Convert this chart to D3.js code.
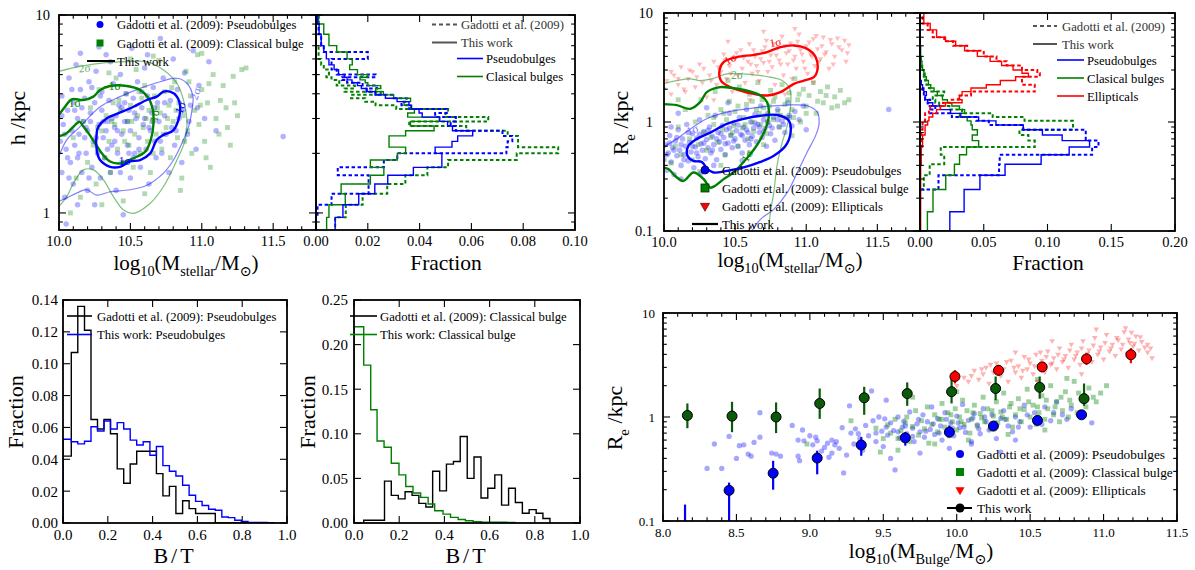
<!DOCTYPE html>
<html><head><meta charset="utf-8">
<script src="https://cdn.jsdelivr.net/npm/d3@7"></script>
<style>
body{margin:0;background:#fff}
svg text{font-family:"Liberation Serif","DejaVu Serif",serif !important;}
</style>
</head><body><svg id="c" width="1195" height="570" font-family="Liberation Serif"></svg>
<script>
// ===================== DATA =====================
// Panel A: h vs log M*  (Gadotti et al. 2009)
const aPseudo = [[10.01,2.3],[10.02,1.6],[10.02,3.9],[10.03,2.8],[10.04,1.2],[10.05,0.88],[10.05,2.1],[10.06,3.3],[10.07,4.8],[10.08,1.8],[10.09,2.6],[10.1,1.4],[10.1,3.6],[10.11,2.2],[10.12,5.6],[10.13,1.9],[10.13,3.0],[10.14,2.5],[10.15,4.2],[10.16,1.6],[10.17,2.9],[10.18,3.8],[10.19,2.0],[10.2,1.3],[10.2,2.6],[10.21,4.6],[10.22,3.2],[10.23,1.7],[10.24,2.3],[10.25,3.6],[10.26,5.2],[10.27,2.0],[10.28,2.8],[10.29,1.5],[10.3,3.3],[10.3,4.1],[10.31,2.4],[10.32,1.9],[10.33,6.3],[10.34,2.9],[10.35,3.7],[10.36,1.6],[10.37,2.2],[10.38,4.5],[10.39,2.7],[10.4,3.1],[10.4,1.3],[10.41,2.0],[10.42,3.5],[10.43,5.0],[10.44,2.5],[10.45,1.8],[10.46,2.9],[10.47,4.0],[10.48,2.2],[10.49,3.3],[10.5,1.5],[10.5,2.6],[10.51,6.8],[10.52,3.8],[10.53,2.0],[10.54,3.0],[10.55,4.6],[10.56,2.4],[10.57,1.7],[10.58,3.4],[10.59,2.8],[10.6,5.4],[10.61,2.1],[10.62,3.9],[10.63,1.4],[10.64,2.6],[10.65,3.2],[10.66,4.3],[10.67,2.3],[10.68,1.9],[10.69,3.6],[10.7,2.9],[10.71,7.6],[10.72,2.0],[10.73,4.8],[10.74,3.1],[10.75,2.5],[10.77,1.6],[10.78,3.7],[10.79,2.7],[10.8,6.0],[10.81,2.2],[10.83,4.2],[10.84,3.0],[10.86,1.8],[10.88,5.1],[10.9,2.5],[10.92,3.5],[10.94,6.6],[10.96,2.1],[10.98,4.4],[11.02,3.0],[11.05,5.8],[11.1,2.6],[10.15,6.4],[10.28,6.9],[10.36,5.8],[10.62,6.3],[10.45,0.98],[10.25,1.1],[10.13,1.1],[11.57,2.43],[10.07,1.5],[10.33,2.6],[10.52,1.9],[10.44,3.4],[10.58,4.1],[10.66,2.9],[10.22,2.9],[10.18,2.4],[10.39,2.3],[10.48,2.9],[10.02,3.1],[10.04,2.5],[10.06,1.9],[10.09,4.2],[10.11,3.3],[10.14,2.0],[10.16,3.4],[10.19,2.7],[10.21,1.5],[10.23,4.3],[10.26,2.4],[10.29,3.9],[10.31,2.9],[10.34,2.1],[10.37,3.0],[10.41,2.6],[10.43,1.6],[10.46,3.6],[10.49,2.0],[10.53,3.2],[10.56,2.1],[10.6,3.0],[10.63,2.7],[10.67,3.4],[10.71,2.3],[10.74,3.6],[10.82,2.6],[10.87,3.3],[10.91,2.9],[10.97,3.4]];
const aClassical = [[10.08,1.0],[10.1,2.4],[10.12,1.5],[10.15,1.2],[10.17,2.9],[10.2,1.8],[10.22,3.4],[10.24,2.2],[10.26,1.4],[10.28,4.2],[10.3,2.6],[10.32,1.9],[10.33,3.1],[10.35,2.3],[10.36,1.6],[10.38,3.6],[10.39,2.8],[10.4,4.8],[10.41,2.1],[10.43,3.3],[10.44,1.8],[10.45,2.6],[10.47,4.0],[10.48,2.9],[10.49,2.2],[10.5,3.5],[10.52,1.7],[10.53,2.5],[10.54,5.3],[10.55,3.1],[10.57,2.0],[10.58,3.8],[10.59,2.7],[10.6,4.4],[10.62,2.3],[10.63,3.3],[10.64,1.6],[10.65,2.9],[10.67,3.9],[10.68,2.5],[10.7,5.9],[10.71,3.2],[10.72,2.1],[10.74,4.1],[10.75,2.7],[10.77,3.5],[10.78,1.9],[10.8,2.9],[10.81,4.6],[10.83,2.4],[10.84,3.6],[10.86,1.5],[10.87,3.1],[10.89,5.2],[10.9,2.6],[10.92,3.9],[10.93,2.0],[10.95,3.3],[10.97,6.3],[10.98,2.8],[11.0,4.2],[11.02,2.3],[11.04,3.6],[11.06,1.7],[11.08,5.0],[11.1,3.0],[11.12,2.5],[11.15,4.4],[11.17,3.4],[11.2,2.2],[11.22,4.9],[11.25,3.1],[11.28,5.3],[11.31,5.4],[10.85,1.3],[10.6,1.25],[10.45,1.15],[10.3,1.1],[11.03,1.9],[10.66,6.2],[10.5,6.0],[10.35,5.1],[11.0,6.4],[10.27,2.7],[10.37,2.9],[10.42,3.7],[10.46,2.3],[10.51,2.9],[10.56,4.1],[10.61,3.0],[10.66,2.0],[10.69,3.4],[10.73,2.5],[10.76,3.0],[10.79,4.3],[10.82,3.3],[10.88,2.3],[10.91,4.6],[10.99,3.5],[11.05,4.5],[11.13,3.7],[11.18,2.7],[11.23,3.6]];
// Panel A contours (this work) [log M*, h]
const aClassical1s = [[9.99,2.43],[10.054,2.53],[10.112,2.78],[10.143,2.89],[10.171,2.73],[10.206,2.53],[10.253,2.25],[10.30,2.0],[10.358,1.82],[10.428,1.78],[10.522,1.89],[10.604,2.04],[10.643,2.34],[10.662,2.84],[10.657,3.31],[10.627,3.80],[10.568,4.18],[10.475,4.38],[10.358,4.38],[10.288,4.18],[10.241,3.87],[10.171,3.72],[10.089,3.75],[10.042,3.44],[9.99,3.06]];
const aPseudo1s = [[10.264,2.53],[10.264,2.08],[10.288,1.85],[10.358,1.71],[10.428,1.71],[10.498,1.82],[10.568,1.85],[10.639,2.0],[10.685,2.34],[10.732,2.48],[10.802,2.62],[10.849,3.31],[10.826,3.87],[10.779,4.10],[10.732,4.10],[10.685,3.87],[10.615,3.72],[10.522,3.44],[10.417,3.19],[10.335,3.01],[10.276,2.73]];
const aClassical2s = [[9.99,5.17],[10.14,5.48],[10.288,5.70],[10.475,5.81],[10.615,5.81],[10.732,5.27],[10.826,4.52],[10.872,3.72],[10.896,2.95],[10.884,2.34],[10.826,1.85],[10.732,1.36],[10.639,1.12],[10.522,0.996],[10.452,1.035],[10.381,1.21],[10.311,1.47],[10.241,1.65],[10.171,1.65],[10.101,1.41],[10.054,1.21],[9.99,1.06]];
const aPseudo2s = [[9.99,1.85],[10.054,2.34],[10.148,2.73],[10.288,3.44],[10.428,3.87],[10.568,4.26],[10.709,4.60],[10.826,4.79],[10.896,4.52],[10.938,3.87],[10.931,3.31],[10.908,2.73],[10.861,2.25],[10.802,1.85],[10.732,1.59],[10.615,1.38],[10.498,1.31],[10.358,1.28],[10.264,1.23],[10.194,1.31],[10.124,1.26],[10.054,1.19],[9.99,1.14]];

// Panel B: fraction histograms of h (bins in kpc)
const hEdges = [0.8,0.95,1.1,1.25,1.4,1.55,1.7,1.85,2.0,2.15,2.3,2.45,2.6,2.75,2.9,3.05,3.2,3.35,3.5,3.65,3.8,3.95,4.1,4.25,4.4,4.55,4.7,4.85,5.0,5.3,5.6,6.0,6.5,7.0,8.0,9.0,10.0];
const hPseudoThis = [0.0074,0.0104,0.0165,0.0227,0.0277,0.0376,0.0486,0.0486,0.046,0.0525,0.0547,0.0605,0.0527,0.0508,0.0478,0.041,0.0398,0.0369,0.0359,0.0313,0.0268,0.0229,0.0197,0.0175,0.016,0.0139,0.012,0.011,0.0087,0.007,0.005,0.004,0.003,0.002,0.0012,0.0006];
const hPseudoGad = [0.0,0.0006,0.006,0.0203,0.0203,0.0084,0.0262,0.0314,0.0735,0.074,0.0758,0.072,0.054,0.052,0.054,0.046,0.0505,0.036,0.033,0.035,0.03,0.023,0.0195,0.0235,0.018,0.012,0.01,0.023,0.008,0.006,0.006,0.02,0.003,0.002,0.001,0.001];
const hClassThis = [0.0041,0.005,0.0113,0.0097,0.021,0.0262,0.021,0.0314,0.0346,0.0282,0.0282,0.0346,0.0456,0.0365,0.0476,0.0354,0.038,0.0365,0.034,0.0365,0.03,0.026,0.023,0.025,0.02,0.019,0.017,0.02,0.016,0.013,0.014,0.012,0.008,0.005,0.003,0.001];
const hClassGad = [0.0074,0.0115,0.018,0.0275,0.0345,0.043,0.051,0.0775,0.0935,0.078,0.078,0.074,0.058,0.036,0.0665,0.05,0.051,0.031,0.023,0.019,0.0135,0.025,0.011,0.015,0.008,0.009,0.006,0.004,0.005,0.003,0.002,0.001,0.001,0.0,0.0,0.0];

// Panel C: Re vs log M*
const cPseudo = [[10.0,0.45],[10.01,0.62],[10.02,0.36],[10.03,0.52],[10.04,0.75],[10.05,0.43],[10.06,0.58],[10.07,0.33],[10.08,0.67],[10.09,0.49],[10.1,0.85],[10.11,0.55],[10.12,0.4],[10.13,0.7],[10.14,0.5],[10.15,0.6],[10.16,0.95],[10.17,0.44],[10.18,0.65],[10.19,0.53],[10.2,0.78],[10.21,0.38],[10.22,0.59],[10.23,0.71],[10.24,0.48],[10.25,1.05],[10.26,0.63],[10.27,0.55],[10.28,0.82],[10.29,0.46],[10.3,0.69],[10.31,0.58],[10.32,0.9],[10.33,0.52],[10.34,0.74],[10.35,0.62],[10.36,1.15],[10.37,0.45],[10.38,0.8],[10.39,0.66],[10.4,0.56],[10.41,0.93],[10.42,0.72],[10.43,0.5],[10.44,0.85],[10.45,0.64],[10.46,1.2],[10.47,0.76],[10.48,0.58],[10.49,0.98],[10.5,0.7],[10.51,0.83],[10.52,0.6],[10.53,1.1],[10.54,0.77],[10.55,0.52],[10.56,0.9],[10.57,0.68],[10.58,1.3],[10.59,0.8],[10.6,0.62],[10.61,1.0],[10.62,0.74],[10.63,0.88],[10.64,1.18],[10.65,0.66],[10.66,0.95],[10.67,0.8],[10.68,1.4],[10.69,0.72],[10.7,1.05],[10.71,0.87],[10.72,0.6],[10.73,1.2],[10.74,0.93],[10.75,0.78],[10.77,1.1],[10.78,0.68],[10.8,1.3],[10.81,0.9],[10.83,1.02],[10.85,0.8],[10.87,1.5],[10.88,1.15],[10.9,0.92],[10.92,1.25],[10.95,1.05],[10.98,1.4],[11.0,0.85],[11.58,1.3],[10.12,0.3],[10.26,0.34],[10.35,0.4],[10.55,0.44],[10.1,1.2],[10.3,1.35],[10.45,1.5],[10.05,0.9],[10.02,0.5],[10.04,0.64],[10.07,0.55],[10.09,0.72],[10.12,0.62],[10.14,0.45],[10.17,0.8],[10.2,0.6],[10.23,0.52],[10.25,0.77],[10.28,0.64],[10.31,0.84],[10.34,0.55],[10.37,0.7],[10.4,0.78],[10.43,0.63],[10.46,0.88],[10.49,0.67],[10.52,0.94],[10.55,0.75],[10.58,0.85],[10.61,0.7],[10.64,0.98],[10.67,0.9],[10.7,0.82],[10.73,1.0],[10.76,0.88],[10.8,1.05],[10.84,0.95],[10.88,1.1]];
const cClassical = [[10.05,0.42],[10.08,0.6],[10.1,0.9],[10.12,0.5],[10.15,1.3],[10.18,0.7],[10.2,0.45],[10.22,1.0],[10.24,0.62],[10.26,1.6],[10.28,0.8],[10.3,0.55],[10.31,1.15],[10.33,0.72],[10.35,0.95],[10.36,1.9],[10.38,0.65],[10.4,1.3],[10.41,0.85],[10.43,0.5],[10.44,1.05],[10.46,1.55],[10.47,0.75],[10.49,0.92],[10.5,1.25],[10.52,0.6],[10.53,2.1],[10.55,0.88],[10.56,1.1],[10.58,1.45],[10.59,0.7],[10.6,1.8],[10.62,1.0],[10.63,0.82],[10.65,1.3],[10.66,2.3],[10.68,0.95],[10.69,1.6],[10.71,1.15],[10.72,0.78],[10.74,1.4],[10.75,1.95],[10.77,1.05],[10.78,1.7],[10.8,1.25],[10.81,0.9],[10.83,2.2],[10.85,1.45],[10.86,1.1],[10.88,1.85],[10.9,1.3],[10.92,2.5],[10.94,1.6],[10.96,1.0],[10.98,2.0],[11.0,1.4],[11.02,1.75],[11.05,2.3],[11.07,1.2],[11.1,1.9],[11.12,1.5],[11.15,2.1],[11.18,1.35],[11.2,1.7],[11.24,1.95],[11.27,1.5],[11.3,1.6],[10.25,0.35],[10.4,0.4],[10.6,0.52],[10.7,0.62],[10.9,0.75],[10.1,1.6],[10.45,2.4],[10.35,1.1],[10.42,1.2],[10.48,0.8],[10.52,1.4],[10.57,0.95],[10.62,1.55],[10.67,1.2],[10.7,1.35],[10.73,1.0],[10.77,1.55],[10.82,1.15],[10.87,1.6],[10.91,1.1],[10.95,1.8],[11.0,1.2],[11.08,1.55],[11.14,1.75],[11.22,1.4]];
const cEllip = [[10.0,2.0],[10.02,2.4],[10.05,1.8],[10.07,2.7],[10.1,2.2],[10.12,3.2],[10.15,1.9],[10.17,2.5],[10.2,2.9],[10.22,2.1],[10.25,3.4],[10.27,2.3],[10.3,1.7],[10.32,2.7],[10.35,3.6],[10.37,2.2],[10.4,2.9],[10.42,4.2],[10.44,2.5],[10.46,3.3],[10.48,1.9],[10.5,3.8],[10.52,2.7],[10.54,4.6],[10.55,3.1],[10.57,2.3],[10.59,3.6],[10.6,5.2],[10.62,2.8],[10.64,4.0],[10.65,3.3],[10.67,2.4],[10.69,4.5],[10.7,3.5],[10.72,5.6],[10.73,2.9],[10.75,4.1],[10.76,3.2],[10.78,2.2],[10.8,4.8],[10.81,3.7],[10.83,6.1],[10.84,2.7],[10.86,4.3],[10.87,3.4],[10.89,5.3],[10.9,2.5],[10.92,4.0],[10.93,3.1],[10.95,6.4],[10.96,4.6],[10.98,3.6],[11.0,5.0],[11.01,2.8],[11.03,4.2],[11.05,5.8],[11.06,3.3],[11.08,4.7],[11.1,3.8],[11.12,6.0],[11.14,4.4],[11.16,3.1],[11.18,5.2],[11.2,4.0],[11.22,5.9],[11.25,4.6],[11.28,3.6],[11.3,5.1],[10.92,7.2],[10.7,6.8],[10.6,1.6],[10.35,1.6],[10.45,5.5],[11.05,2.3],[10.85,1.8],[10.05,2.9],[10.1,2.5],[10.14,2.0],[10.18,3.0],[10.23,2.6],[10.28,3.1],[10.33,2.4],[10.38,3.2],[10.43,3.7],[10.47,2.8],[10.51,4.3],[10.56,3.9],[10.61,3.4],[10.63,4.6],[10.66,2.9],[10.68,3.8],[10.71,4.9],[10.74,3.6],[10.77,5.2],[10.79,4.1],[10.82,3.4],[10.85,5.0],[10.88,4.5],[10.91,3.7],[10.94,5.5],[10.97,4.2],[10.99,3.1],[11.02,5.4],[11.04,4.0],[11.07,6.2],[11.09,3.6],[11.11,5.0],[11.13,4.2],[11.17,5.7],[11.19,3.4],[11.23,4.9],[11.27,5.6],[11.29,4.3]];
const cEllip1s = [[10.39,2.96],[10.419,3.54],[10.513,3.94],[10.631,4.13],[10.725,4.38],[10.819,4.87],[10.913,5.04],[11.007,4.69],[11.066,3.94],[11.078,2.96],[11.054,2.58],[10.984,2.40],[10.913,2.24],[10.819,1.88],[10.725,1.75],[10.631,1.81],[10.537,1.94],[10.454,2.13],[10.40,2.40]];
const cClassical1s = [[9.99,1.46],[10.089,1.43],[10.184,1.32],[10.254,1.52],[10.301,1.88],[10.395,2.09],[10.489,2.04],[10.584,1.94],[10.678,1.75],[10.725,1.52],[10.737,1.14],[10.713,0.86],[10.666,0.65],[10.619,0.53],[10.56,0.43],[10.489,0.344],[10.419,0.299],[10.36,0.26],[10.325,0.25],[10.278,0.30],[10.207,0.344],[10.136,0.288],[10.078,0.32],[10.031,0.37],[9.99,0.383]];
const cPseudo1s = [[10.165,0.49],[10.172,0.605],[10.231,0.70],[10.325,0.80],[10.442,0.96],[10.56,1.07],[10.678,1.14],[10.795,1.16],[10.878,1.03],[10.89,0.80],[10.855,0.605],[10.772,0.49],[10.678,0.43],[10.56,0.383],[10.442,0.356],[10.348,0.344],[10.306,0.37],[10.266,0.43],[10.207,0.44]];
const cClassical2s = [[9.99,2.24],[10.089,2.40],[10.184,2.49],[10.254,2.40],[10.348,2.52],[10.442,2.76],[10.537,2.76],[10.631,2.71],[10.748,2.58],[10.831,2.40],[10.885,2.01],[10.89,1.41],[10.866,0.92],[10.831,0.65],[10.795,0.40],[10.772,0.225],[10.748,0.148],[10.737,0.095]];
const cPseudo2s = [[9.99,0.585],[10.089,0.70],[10.184,0.86],[10.301,1.07],[10.442,1.23],[10.584,1.32],[10.725,1.39],[10.866,1.43],[11.007,1.41],[11.078,1.23],[11.09,0.96],[11.066,0.75],[11.007,0.53],[10.937,0.344],[10.866,0.225],[10.772,0.158],[10.678,0.128],[10.607,0.095]];

// Panel D: fraction histograms of Re
const reEdges = [0.1,0.15,0.24,0.325,0.41,0.5,0.59,0.675,0.76,0.85,0.94,1.025,1.11,1.2,1.3,1.4,1.5,1.6,1.75,1.9,2.05,2.2,2.4,2.6,2.8,3.0,3.3,3.6,4.0,4.5,5.0,5.5,6.0,7.0,8.0,10.0];
const rePseudoThis = [0.0234,0.0346,0.047,0.0667,0.095,0.117,0.133,0.1115,0.096,0.081,0.0596,0.046,0.032,0.024,0.016,0.01,0.006,0.004,0.005,0.003,0.002,0.001,0,0,0,0,0,0,0,0,0,0,0,0,0];
const rePseudoGad = [0,0,0.0145,0.062,0.0625,0.135,0.14,0.13,0.13,0.081,0.054,0.044,0.025,0.008,0.012,0.006,0.008,0.004,0.003,0.002,0,0,0,0,0,0,0,0,0,0,0,0,0,0,0];
const reClassThis = [0.0058,0.0102,0.0202,0.027,0.031,0.0365,0.046,0.041,0.045,0.041,0.04,0.037,0.031,0.035,0.031,0.025,0.0215,0.0176,0.0136,0.011,0.0084,0.0066,0.005,0.004,0.003,0.002,0.0015,0.001,0.0005,0.0005,0,0,0,0,0];
const reClassGad = [0,0,0.003,0.0076,0.019,0.0163,0.09,0.085,0.078,0.12,0.12,0.082,0.057,0.033,0.023,0.015,0.012,0.01,0.019,0.008,0.006,0.005,0.004,0.003,0.003,0.001,0.001,0,0,0,0,0,0,0,0];
const reEllThis = [0.0005,0.0005,0.0005,0.0005,0.001,0.001,0.002,0.002,0.004,0.004,0.006,0.007,0.01,0.013,0.016,0.02,0.033,0.031,0.033,0.04,0.052,0.063,0.075,0.085,0.08,0.073,0.064,0.055,0.045,0.035,0.028,0.02,0.013,0.008,0.003];
const reEllGad = [0,0,0,0,0,0,0.001,0.001,0.001,0.002,0.002,0.004,0.004,0.007,0.008,0.018,0.024,0.03,0.04,0.09,0.09,0.08,0.08,0.094,0.092,0.08,0.068,0.06,0.05,0.037,0.026,0.019,0.01,0.006,0.002];

// Panel E: B/T pseudobulges
const btEdgesE = [0,0.037,0.066,0.096,0.125,0.154,0.183,0.212,0.242,0.271,0.3,0.329,0.358,0.388,0.417,0.446,0.475,0.504,0.534,0.563,0.592,0.621,0.65,0.68,0.709,0.738,0.767,0.796,0.826,0.855,0.884,0.913,0.942];
const btPseudoGad = [0.042,0.107,0.136,0.121,0.065,0.059,0.065,0.056,0.034,0.025,0.037,0.045,0.045,0.045,0.031,0.017,0.023,0.006,0.014,0.009,0.006,0.006,0.006,0,0,0,0,0,0,0,0,0];
const btPseudoThis = [0.0526,0.051,0.0497,0.0513,0.0604,0.0578,0.064,0.059,0.063,0.059,0.052,0.049,0.051,0.0425,0.048,0.036,0.0325,0.0295,0.0237,0.0174,0.0136,0.011,0.0086,0.008,0.0038,0.0034,0.0017,0.001,0.0004,0.0003,0.0003,0.0002];

// Panel F: B/T classical bulges
const btEdgesClassGad = [0.043,0.074,0.104,0.135,0.165,0.196,0.226,0.257,0.287,0.318,0.348,0.379,0.409,0.44,0.47,0.501,0.531,0.562,0.592,0.623,0.653,0.684,0.714,0.745,0.775,0.806,0.836,0.867];
const btClassGad = [0.003,0.003,0.003,0.047,0.031,0.027,0.035,0.031,0.022,0.018,0.058,0.036,0.066,0.069,0.097,0.05,0.074,0.028,0.039,0.054,0.02,0.039,0.023,0.011,0.015,0.011,0.005];
const btEdgesClassThis = [0,0.043,0.074,0.102,0.133,0.165,0.199,0.229,0.261,0.295,0.328,0.357,0.394,0.427,0.461,0.493,0.527,0.564,0.601,0.638,0.675,0.712];
const btClassThis = [0.22,0.177,0.127,0.092,0.085,0.067,0.054,0.041,0.0336,0.0287,0.0213,0.0138,0.01,0.0063,0.004,0.0026,0.0015,0.001,0.0008,0.0008,0.0005];

// Panel G: Re vs log M_bulge
const gPseudo = [[8.3,0.32],[8.35,0.55],[8.45,0.65],[8.5,0.4],[8.52,0.53],[8.55,0.54],[8.58,0.44],[8.6,0.42],[8.62,0.57],[8.66,0.64],[8.66,1.1],[8.74,0.45],[8.77,0.44],[8.8,0.42],[8.88,0.83],[8.92,0.6],[8.92,0.42],[8.93,0.38],[8.96,0.59],[9.0,0.66],[9.02,0.54],[9.04,0.64],[9.05,0.59],[9.08,0.47],[9.1,0.51],[9.12,0.56],[9.13,0.41],[9.15,0.6],[9.17,0.54],[9.18,0.58],[9.2,0.5],[9.22,0.79],[9.23,0.29],[9.25,0.43],[9.27,1.28],[9.28,0.7],[9.3,0.55],[9.31,0.77],[9.33,0.69],[9.34,0.62],[9.36,0.48],[9.38,0.83],[9.4,0.66],[9.42,1.78],[9.43,0.92],[9.45,0.58],[9.47,1.0],[9.49,0.73],[9.5,0.52],[9.51,0.96],[9.52,1.45],[9.53,0.67],[9.55,0.88],[9.57,0.74],[9.58,0.31],[9.6,1.0],[9.61,0.63],[9.63,0.8],[9.64,0.91],[9.66,0.69],[9.68,1.12],[9.7,0.78],[9.71,0.58],[9.73,0.86],[9.75,0.72],[9.77,1.05],[9.78,0.64],[9.8,0.9],[9.82,0.76],[9.83,1.25],[9.85,0.68],[9.87,0.97],[9.89,0.82],[9.9,0.6],[9.92,1.1],[9.94,0.74],[9.96,0.88],[9.98,0.66],[10.0,1.02],[10.02,0.79],[10.04,1.32],[10.06,0.71],[10.08,0.93],[10.1,0.58],[10.12,1.08],[10.14,0.84],[10.16,0.69],[10.18,1.2],[10.2,0.9],[10.22,0.75],[10.24,1.05],[10.27,0.62],[10.3,0.97],[10.32,1.15],[10.35,0.82],[10.38,0.72],[10.4,1.0],[10.43,0.9],[10.46,1.3],[10.5,0.8],[10.53,1.1],[10.56,0.98],[10.6,1.25],[10.64,0.92],[10.68,1.4],[10.72,1.05],[10.78,1.2],[10.85,1.1],[10.92,0.88],[9.55,0.4],[9.75,0.45],[9.95,0.5],[10.1,0.55],[10.4,0.6],[10.3,0.46],[8.4,0.32],[8.95,0.75],[9.15,0.45],[9.45,0.7],[9.52,0.8],[9.6,0.72],[9.65,0.82],[9.7,0.65],[9.74,0.95],[9.79,0.73],[9.84,0.86],[9.88,0.7],[9.93,0.95],[9.97,0.78],[10.01,0.88],[10.05,0.8],[10.11,0.98],[10.15,0.77],[10.19,1.0],[10.26,0.88],[10.33,0.95],[10.42,0.8],[10.48,1.05],[10.58,0.85],[10.66,1.1],[10.75,0.95]];
const gClassical = [[8.98,0.55],[9.28,0.92],[9.45,0.78],[9.48,0.46],[9.5,0.62],[9.53,0.84],[9.55,0.7],[9.58,0.95],[9.6,0.62],[9.62,0.74],[9.65,0.88],[9.66,1.0],[9.68,0.58],[9.7,0.81],[9.72,1.15],[9.74,0.67],[9.76,0.92],[9.78,0.77],[9.8,1.25],[9.81,0.56],[9.83,0.85],[9.85,1.05],[9.87,0.72],[9.88,0.95],[9.9,1.35],[9.92,0.8],[9.94,1.1],[9.95,0.66],[9.97,0.9],[9.99,1.2],[10.0,0.75],[10.02,1.0],[10.04,1.45],[10.05,0.85],[10.07,1.15],[10.09,0.7],[10.1,0.95],[10.12,1.3],[10.14,0.82],[10.16,1.08],[10.18,1.55],[10.19,0.9],[10.21,1.2],[10.23,0.77],[10.25,1.02],[10.27,1.4],[10.28,0.88],[10.3,1.12],[10.32,1.7],[10.34,0.95],[10.36,1.25],[10.38,0.8],[10.4,1.05],[10.42,1.5],[10.44,0.9],[10.46,1.18],[10.48,1.85],[10.5,1.0],[10.52,1.3],[10.54,0.85],[10.56,1.1],[10.58,1.6],[10.6,0.95],[10.62,1.2],[10.64,2.0],[10.66,1.05],[10.68,1.4],[10.7,0.9],[10.72,1.15],[10.74,1.75],[10.76,1.0],[10.78,1.3],[10.8,2.2],[10.82,1.1],[10.85,1.5],[10.88,1.25],[10.9,1.9],[10.95,1.4],[10.98,1.7],[11.02,2.0],[9.6,0.48],[9.85,0.55],[10.08,0.6],[10.35,0.68],[10.6,0.75],[9.7,1.55],[10.0,1.75],[10.55,2.3],[10.75,2.35],[9.9,0.95],[9.96,1.05],[10.03,0.9],[10.11,1.1],[10.17,0.98],[10.24,1.15],[10.31,1.0],[10.37,1.35],[10.43,1.2],[10.49,1.4],[10.55,1.25],[10.61,1.45],[10.67,1.25],[10.71,1.55],[10.77,1.45],[10.83,1.7],[10.87,1.6],[10.93,1.55]];
const gEllip = [[10.0,2.0],[10.05,2.4],[10.08,2.2],[10.12,2.8],[10.15,2.3],[10.18,2.6],[10.2,3.0],[10.22,2.1],[10.25,2.7],[10.27,3.3],[10.3,2.5],[10.32,2.9],[10.35,2.2],[10.37,3.5],[10.4,2.7],[10.42,3.1],[10.44,2.4],[10.46,3.8],[10.48,2.9],[10.5,3.3],[10.52,2.6],[10.54,4.0],[10.56,3.0],[10.58,3.5],[10.6,2.7],[10.62,4.3],[10.64,3.2],[10.66,3.7],[10.68,2.9],[10.7,4.6],[10.72,3.4],[10.74,3.9],[10.76,3.0],[10.78,5.0],[10.8,3.6],[10.82,4.2],[10.84,3.2],[10.86,5.4],[10.88,3.8],[10.9,4.4],[10.92,3.4],[10.94,5.8],[10.96,4.0],[10.98,4.7],[11.0,3.6],[11.02,6.2],[11.04,4.3],[11.06,5.0],[11.08,3.9],[11.1,5.5],[11.12,4.5],[11.14,6.6],[11.16,4.1],[11.18,5.2],[11.2,4.8],[11.22,6.0],[11.24,4.4],[11.26,5.3],[11.28,4.7],[11.3,4.2],[11.33,3.7],[11.15,7.2],[10.95,7.0],[10.65,5.4],[10.4,4.2],[10.25,1.9],[10.55,2.2],[10.85,2.6],[10.1,2.5],[10.17,2.9],[10.23,3.2],[10.29,2.8],[10.34,3.4],[10.39,3.0],[10.45,2.8],[10.49,3.6],[10.53,3.1],[10.57,4.2],[10.61,3.8],[10.65,3.3],[10.69,4.0],[10.73,3.6],[10.77,4.4],[10.81,3.9],[10.85,4.6],[10.89,4.1],[10.93,4.9],[10.97,4.3],[11.01,5.2],[11.05,4.6],[11.09,5.8],[11.13,5.0],[11.17,5.6],[11.21,5.1],[11.25,5.9],[11.3,5.0],[11.32,4.6],[11.19,6.5]];
// This work binned medians with errors
const twPseudoM = [8.15,8.45,8.75,9.05,9.35,9.65,9.95,10.25,10.55,10.85];
const twPseudoRe = [0.085,0.197,0.288,0.403,0.538,0.63,0.715,0.818,0.927,1.05];
const twPseudoLo = [0.05,0.10,0.20,0.281,0.424,0.53,0.64,0.74,0.85,0.98];
const twPseudoHi = [0.144,0.234,0.379,0.474,0.64,0.715,0.83,0.90,1.0,1.13];
const twClassM = [8.166,8.47,8.77,9.067,9.37,9.663,9.965,10.265,10.565,10.867];
const twClassRe = [1.036,1.02,1.0,1.35,1.53,1.68,1.75,1.88,1.93,1.5];
const twClassLo = [0.78,0.715,0.70,0.96,1.05,1.28,1.35,1.45,1.5,1.28];
const twClassHi = [1.35,1.40,1.38,1.88,1.95,2.15,2.45,2.45,2.45,2.1];
const twEllM = [9.988,10.285,10.582,10.884,11.186];
const twEllRe = [2.45,2.81,3.03,3.62,3.97];
const twEllLo = [2.1,2.5,2.7,3.17,3.29];
const twEllHi = [2.83,3.17,3.35,4.1,4.6];

// tick values
const massTicks = [10.0,10.5,11.0,11.5];
const fracTicksB = [0,0.02,0.04,0.06,0.08,0.10];
const fracTicksD = [0,0.05,0.10,0.15,0.20];
const btTicks = [0,0.2,0.4,0.6,0.8,1.0];
const fracTicksE = [0,0.02,0.04,0.06,0.08,0.10,0.12,0.14];
const fracTicksF = [0,0.05,0.10,0.15,0.20,0.25];
const bulgeTicks = [8.0,8.5,9.0,9.5,10.0,10.5,11.0,11.5];

// ===================== DRAWING =====================
const FONT = '"Liberation Serif","DejaVu Serif",serif';
const svg = d3.select('#c');
svg.append('rect').attr('width',1195).attr('height',570).attr('fill','#fff');
const defs = svg.append('defs');
const BLUE='#0000ff', GREEN='#008000', RED='#ff0000', DGREEN='#0a5a0a';

const PA={l:59,r:316,t:15,b:230}, PB={l:316,r:575,t:15,b:230},
      PC={l:664,r:920,t:13,b:231}, PD={l:920,r:1175,t:13,b:231},
      PE={l:63,r:287,t:300,b:523}, PF={l:354,r:580,t:300,b:523},
      PG={l:663,r:1177,t:313,b:521};

const xA=d3.scaleLinear().domain([10,11.8]).range([PA.l,PA.r]);
const yA=d3.scaleLog().domain([0.82,10]).range([PA.b,PA.t]);
const xB=d3.scaleLinear().domain([0,0.1]).range([PB.l,PB.r]);
const xC=d3.scaleLinear().domain([10,11.8]).range([PC.l,PC.r]);
const yC=d3.scaleLog().domain([0.1,10]).range([PC.b,PC.t]);
const xD=d3.scaleLinear().domain([0,0.2]).range([PD.l,PD.r]);
const xE=d3.scaleLinear().domain([0,1]).range([PE.l,PE.r]);
const yE=d3.scaleLinear().domain([0,0.14]).range([PE.b,PE.t]);
const xF=d3.scaleLinear().domain([0,1]).range([PF.l,PF.r]);
const yF=d3.scaleLinear().domain([0,0.25]).range([PF.b,PF.t]);
const xG=d3.scaleLinear().domain([8,11.5]).range([PG.l,PG.r]);
const yG=d3.scaleLog().domain([0.1,10]).range([PG.b,PG.t]);

function clipG(id,P){
  defs.append('clipPath').attr('id',id).append('rect')
    .attr('x',P.l).attr('y',P.t).attr('width',P.r-P.l).attr('height',P.b-P.t);
  return svg.append('g').attr('clip-path',`url(#${id})`);
}
function scatter(g,data,xs,ys,kind,color,size,op){
  const t = kind==='circle'?d3.symbolCircle:kind==='square'?d3.symbolSquare:d3.symbolTriangle;
  const sym=d3.symbol().type(t).size(size);
  g.selectAll(null).data(data).enter().append('path').attr('d',sym)
    .attr('transform',d=>`translate(${xs(d[0])},${ys(d[1])})`+(kind==='tri'?' rotate(180)':''))
    .attr('fill',color).attr('fill-opacity',op);
}
function contour(g,pts,xs,ys,color,w,op,closed){
  const ln=d3.line().x(d=>xs(d[0])).y(d=>ys(d[1]))
    .curve(closed?d3.curveCatmullRomClosed.alpha(0.5):d3.curveCatmullRom.alpha(0.5));
  g.append('path').attr('d',ln(pts)).attr('fill','none').attr('stroke',color)
    .attr('stroke-width',w).attr('stroke-opacity',op);
}
function vstep(g,edges,vals,xs,ys,color,w,dash){
  const pts=[[edges[0],0]];
  vals.forEach((v,i)=>{pts.push([edges[i],v]);pts.push([edges[i+1],v]);});
  pts.push([edges[edges.length-1],0]);
  const p=g.append('path').attr('d',d3.line().x(d=>xs(d[0])).y(d=>ys(d[1]))(pts))
    .attr('fill','none').attr('stroke',color).attr('stroke-width',w);
  if(dash)p.attr('stroke-dasharray',dash);
}
function hstep(g,edges,vals,xs,ys,color,w,dash){
  const pts=[[0,edges[0]]];
  vals.forEach((v,i)=>{pts.push([v,edges[i]]);pts.push([v,edges[i+1]]);});
  pts.push([0,edges[edges.length-1]]);
  const p=g.append('path').attr('d',d3.line().x(d=>xs(d[0])).y(d=>ys(d[1]))(pts))
    .attr('fill','none').attr('stroke',color).attr('stroke-width',w);
  if(dash)p.attr('stroke-dasharray',dash);
}
function mkText(parent){ return parent.append('text').attr('font-family',FONT).style('font-family',FONT); }
function axes(P,xs,ys,o){
  const g=svg.append('g').attr('stroke','#000').attr('stroke-width',1.1);
  const tk=(a,b,c,d)=>g.append('line').attr('x1',a).attr('y1',b).attr('x2',c).attr('y2',d);
  const ML=7, mL=3.8;
  (o.xMaj||[]).forEach(v=>{const x=xs(v);tk(x,P.b,x,P.b-ML);tk(x,P.t,x,P.t+ML);});
  (o.xMin||[]).forEach(v=>{const x=xs(v);tk(x,P.b,x,P.b-mL);tk(x,P.t,x,P.t+mL);});
  (o.yMaj||[]).forEach(v=>{const y=ys(v);tk(P.l,y,P.l+ML,y);tk(P.r,y,P.r-ML,y);});
  (o.yMin||[]).forEach(v=>{const y=ys(v);tk(P.l,y,P.l+mL,y);tk(P.r,y,P.r-mL,y);});
  const t=svg.append('g').attr('font-size',o.fs).attr('fill','#000');
  if(o.xLab)(o.xMaj).forEach(v=>mkText(t).attr('x',xs(v)).attr('y',P.b+o.xOff)
      .attr('text-anchor','middle').text(o.xLab(v)));
  if(o.yLab)(o.yMaj).forEach(v=>mkText(t).attr('x',P.l-o.yOff).attr('y',ys(v)+o.fs*0.36)
      .attr('text-anchor','end').text(o.yLab(v)));
  svg.append('rect').attr('x',P.l).attr('y',P.t).attr('width',P.r-P.l).attr('height',P.b-P.t)
    .attr('fill','none').attr('stroke','#000').attr('stroke-width',1.8);
}
function rich(x,y,parts,size,anchor,rot){
  const t=mkText(svg).attr('font-size',size).attr('text-anchor',anchor||'middle').attr('fill','#000');
  if(rot)t.attr('transform',`translate(${x},${y}) rotate(${rot})`);else t.attr('x',x).attr('y',y);
  let shift=0;
  parts.forEach(p=>{
    const s=typeof p==='string'?p:p[0], sub=typeof p!=='string';
    const ts=t.append('tspan').text(s);
    const target=sub?size*0.3:0;
    if(target!==shift){ts.attr('dy',target-shift);shift=target;}
    if(sub)ts.attr('font-size',size*0.68);
  });
  return t;
}
function txt(x,y,s,size,color,anchor){
  return mkText(svg).attr('x',x).attr('y',y).attr('font-size',size)
    .attr('fill',color||'#000').attr('text-anchor',anchor||'start').text(s);
}
function dataLabel(g,xs,ys,x,y,s,color,rot){
  const px=xs(x),py=ys(y);
  mkText(g).attr('transform',`translate(${px},${py}) rotate(${rot||0})`)
    .attr('font-size',11.5).attr('fill',color).attr('text-anchor','middle').attr('dy',4).text(s);
}
const logMinor = (lo,hi)=>{const r=[];for(let d=lo;d<hi;d*=10)for(let k=2;k<=9;k++)r.push(d*k);return r;};
const f1=d3.format('.1f'), f2=d3.format('.2f');
const logLab = v => String(v);
const minorOf = (a,b)=>d3.range(a,b,0.1).filter(v=>Math.abs(v*2-Math.round(v*2))>0.01);

// ---------- Panel A ----------
const gA=clipG('cA',PA);
scatter(gA,aPseudo,xA,yA,'circle',BLUE,24,0.3);
scatter(gA,aClassical,xA,yA,'square',GREEN,24,0.3);
contour(gA,aClassical2s,xA,yA,GREEN,1.2,0.5,false);
contour(gA,aPseudo2s,xA,yA,BLUE,1.2,0.5,false);
contour(gA,aClassical1s,xA,yA,GREEN,2.4,1,false);
contour(gA,aPseudo1s,xA,yA,BLUE,2.4,1,true);
dataLabel(gA,xA,yA,10.18,5.4,'2σ','#66aa66',-5);
dataLabel(gA,xA,yA,10.39,4.38,'1σ',GREEN,0);
dataLabel(gA,xA,yA,10.11,3.6,'1σ',GREEN,0);
dataLabel(gA,xA,yA,10.667,3.1,'1σ',GREEN,-80);
dataLabel(gA,xA,yA,10.46,1.82,'1σ',BLUE,0);
dataLabel(gA,xA,yA,10.85,3.4,'1σ',BLUE,-70);
dataLabel(gA,xA,yA,10.955,4.0,'2σ','#7777ff',-70);
axes(PA,xA,yA,{xMaj:massTicks,xMin:minorOf(10.1,11.8),
  yMaj:[1,10],yMin:[0.9].concat(logMinor(1,10)),fs:14.5,xOff:16,yOff:9,xLab:f1,yLab:logLab});

// ---------- Panel B ----------
const gB=clipG('cB',PB);
hstep(gB,hEdges,hClassGad,xB,yA,GREEN,2,'3.5,2.5');
hstep(gB,hEdges,hPseudoGad,xB,yA,BLUE,2,'3.5,2.5');
hstep(gB,hEdges,hClassThis,xB,yA,GREEN,1.4);
hstep(gB,hEdges,hPseudoThis,xB,yA,BLUE,1.4);
axes(PB,xB,yA,{xMaj:fracTicksB,yMaj:[1,10],yMin:[0.9].concat(logMinor(1,10)),fs:14.5,xOff:16,xLab:f2});

// ---------- Panel C ----------
const gC=clipG('cC',PC);
scatter(gC,cPseudo,xC,yC,'circle',BLUE,24,0.3);
scatter(gC,cClassical,xC,yC,'square',GREEN,24,0.3);
scatter(gC,cEllip,xC,yC,'tri',RED,13,0.26);
contour(gC,cClassical2s,xC,yC,GREEN,1.2,0.5,false);
contour(gC,cPseudo2s,xC,yC,BLUE,1.2,0.5,false);
contour(gC,cEllip1s,xC,yC,RED,2.4,1,true);
contour(gC,cClassical1s,xC,yC,GREEN,2.4,1,false);
contour(gC,cPseudo1s,xC,yC,BLUE,2.4,1,true);
dataLabel(gC,xC,yC,10.783,5.4,'1σ',RED,-10);
dataLabel(gC,xC,yC,10.466,3.8,'1σ',RED,-30);
dataLabel(gC,xC,yC,10.513,2.7,'2σ','#66aa66',0);
dataLabel(gC,xC,yC,10.584,0.49,'1σ',GREEN,-60);
dataLabel(gC,xC,yC,10.2,0.85,'1σ','#7777ff',-20);
axes(PC,xC,yC,{xMaj:massTicks,xMin:minorOf(10.1,11.8),
  yMaj:[0.1,1,10],yMin:logMinor(0.1,10),fs:14.5,xOff:16,yOff:11,xLab:f1,yLab:logLab});

// ---------- Panel D ----------
const gD=clipG('cD',PD);
hstep(gD,reEdges,reClassGad,xD,yC,GREEN,2,'3.5,2.5');
hstep(gD,reEdges,rePseudoGad,xD,yC,BLUE,2,'3.5,2.5');
hstep(gD,reEdges,reEllGad,xD,yC,RED,2,'3.5,2.5');
hstep(gD,reEdges,reClassThis,xD,yC,GREEN,1.4);
hstep(gD,reEdges,rePseudoThis,xD,yC,BLUE,1.4);
hstep(gD,reEdges,reEllThis,xD,yC,RED,1.4);
axes(PD,xD,yC,{xMaj:fracTicksD,yMaj:[0.1,1,10],yMin:logMinor(0.1,10),fs:14.5,xOff:16,xLab:f2});

// ---------- Panel E ----------
const gE=clipG('cE',PE);
vstep(gE,btEdgesE,btPseudoGad,xE,yE,'#000',1.4);
vstep(gE,btEdgesE,btPseudoThis,xE,yE,BLUE,1.4);
axes(PE,xE,yE,{xMaj:btTicks,yMaj:fracTicksE,fs:15,xOff:17,yOff:5,xLab:f1,yLab:f2});

// ---------- Panel F ----------
const gF=clipG('cF',PF);
vstep(gF,btEdgesClassGad,btClassGad,xF,yF,'#000',1.4);
vstep(gF,btEdgesClassThis,btClassThis,xF,yF,GREEN,1.4);
axes(PF,xF,yF,{xMaj:btTicks,yMaj:fracTicksF,fs:15,xOff:17,yOff:6,xLab:f1,yLab:f2});

// ---------- Panel G ----------
const gG=clipG('cG',PG);
scatter(gG,gPseudo,xG,yG,'circle',BLUE,22,0.35);
scatter(gG,gClassical,xG,yG,'square',GREEN,24,0.38);
scatter(gG,gEllip,xG,yG,'tri',RED,14,0.3);
function errPts(M,Re,Lo,Hi,color){
  M.forEach((m,i)=>{
    gG.append('line').attr('x1',xG(m)).attr('x2',xG(m)).attr('y1',yG(Lo[i])).attr('y2',yG(Hi[i]))
      .attr('stroke',color).attr('stroke-width',2.2);
  });
  M.forEach((m,i)=>{
    gG.append('circle').attr('cx',xG(m)).attr('cy',yG(Re[i])).attr('r',5)
      .attr('fill',color).attr('stroke','#000').attr('stroke-width',1);
  });
}
errPts(twPseudoM,twPseudoRe,twPseudoLo,twPseudoHi,BLUE);
errPts(twClassM,twClassRe,twClassLo,twClassHi,DGREEN);
errPts(twEllM,twEllRe,twEllLo,twEllHi,RED);
axes(PG,xG,yG,{xMaj:bulgeTicks,xMin:minorOf(8.1,11.5),
  yMaj:[0.1,1,10],yMin:logMinor(0.1,10),fs:13,xOff:16,yOff:8,xLab:f1,yLab:logLab});

// ---------- Axis labels ----------
rich(186,270,['log',['10'],'(M',['stellar'],'/M',['⊙'],')'],21);
rich(790,267,['log',['10'],'(M',['stellar'],'/M',['⊙'],')'],21);
txt(446,270,'Fraction',21.5,'#000','middle');
txt(1048,270,'Fraction',21.5,'#000','middle');
txt(175,563,'B/T',22,'#000','middle').attr('letter-spacing',3);
txt(467,563,'B/T',22,'#000','middle').attr('letter-spacing',3);
rich(921,558,['log',['10'],'(M',['Bulge'],'/M',['⊙'],')'],21);
rich(25,118,['h /kpc'],22,'middle',-90);
rich(628,123,['R',['e'],' /kpc'],22,'middle',-90);
rich(23,412,['Fraction'],22,'middle',-90);
rich(315,412,['Fraction'],22,'middle',-90);
rich(622,418,['R',['e'],' /kpc'],22,'middle',-90);

// ---------- Legends ----------
const LF=12.7;
// A
svg.append('circle').attr('cx',100).attr('cy',24.5).attr('r',3.5).attr('fill',BLUE);
txt(117,29,'Gadotti et al. (2009): Pseudobulges',LF);
svg.append('rect').attr('x',96.5).attr('y',39.5).attr('width',7).attr('height',7).attr('fill',GREEN);
txt(117,47.5,'Gadotti et al. (2009): Classical bulge',LF);
svg.append('line').attr('x1',87).attr('x2',115).attr('y1',61).attr('y2',61).attr('stroke','#000').attr('stroke-width',2);
txt(117,65.5,'This work',LF);
// B
function lgLine(x1,x2,y,color,dash,w){const l=svg.append('line').attr('x1',x1).attr('x2',x2).attr('y1',y).attr('y2',y).attr('stroke',color).attr('stroke-width',w||1.6);if(dash)l.attr('stroke-dasharray',dash);}
lgLine(432,457,24.5,'#555','4,3',1.8); txt(461,29,'Gadotti et al. (2009)',LF,'#333');
lgLine(432,457,42.5,'#555',null,2); txt(461,47,'This work',LF,'#333');
lgLine(457,483,58.5,BLUE); txt(486,63,'Pseudobulges',LF);
lgLine(457,483,76.5,GREEN); txt(486,81,'Clasical bulges',LF);
// D
lgLine(1033,1057,26,'#555','4,3',1.8); txt(1062,30.5,'Gadotti et al. (2009)',LF,'#333');
lgLine(1033,1057,44,'#555',null,2); txt(1062,48.5,'This work',LF,'#333');
lgLine(1057,1084,60,BLUE); txt(1087,64.5,'Pseudobulges',LF);
lgLine(1057,1084,78,GREEN); txt(1087,82.5,'Clasical bulges',LF);
lgLine(1057,1084,96,RED); txt(1087,100.5,'Ellipticals',LF);
// C
svg.append('circle').attr('cx',705).attr('cy',170).attr('r',4).attr('fill',BLUE).attr('stroke','#003').attr('stroke-width',0.8);
txt(722,174.5,'Gadotti et al. (2009): Pseudobulges',LF);
svg.append('rect').attr('x',701).attr('y',184).attr('width',8).attr('height',8).attr('fill',GREEN).attr('stroke','#030').attr('stroke-width',0.8);
txt(722,192.5,'Gadotti et al. (2009): Classical bulge',LF);
svg.append('path').attr('d',d3.symbol().type(d3.symbolTriangle).size(36)()).attr('transform','translate(705,206) rotate(180)').attr('fill',RED).attr('stroke','#300').attr('stroke-width',0.6);
txt(722,210.5,'Gadotti et al. (2009): Ellipticals',LF);
lgLine(692,718,224,'#000',null,2.2); txt(722,228.5,'This work',LF);
// E
lgLine(67,92,316,'#000',null,1.6); txt(97,320.5,'Gadotti et al. (2009): Pseudobulges',LF);
lgLine(67,92,334.5,BLUE,null,1.6); txt(97,339,'This work: Pseudobulges',LF);
// F
lgLine(350,377,316,'#000',null,1.6); txt(380,320.5,'Gadotti et al. (2009): Classical bulge',LF);
lgLine(350,377,334.5,GREEN,null,1.6); txt(380,339,'This work: Classical bulge',LF);
// G
const GF=13.3;
svg.append('circle').attr('cx',960).attr('cy',454).attr('r',4).attr('fill',BLUE);
txt(977,458.5,'Gadotti et al. (2009): Pseudobulges',GF);
svg.append('rect').attr('x',956).attr('y',468).attr('width',8).attr('height',8).attr('fill',GREEN);
txt(977,476.5,'Gadotti et al. (2009): Classical bulge',GF);
svg.append('path').attr('d',d3.symbol().type(d3.symbolTriangle).size(36)()).attr('transform','translate(960,490) rotate(180)').attr('fill',RED);
txt(977,494.5,'Gadotti et al. (2009): Ellipticals',GF);
lgLine(947,972,508,'#000',null,2);
svg.append('circle').attr('cx',960).attr('cy',508).attr('r',4.5).attr('fill','#000');
txt(977,512.5,'This work',GF);
</script></body></html>
